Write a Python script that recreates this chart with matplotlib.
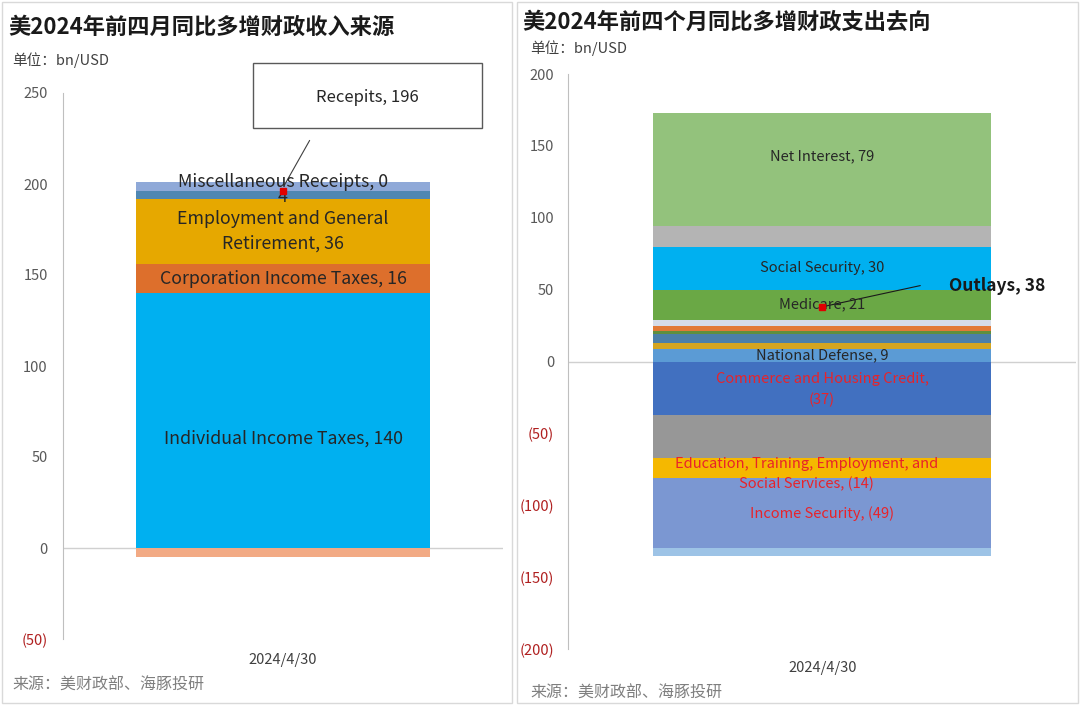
import matplotlib
matplotlib.use("Agg")
import matplotlib.pyplot as plt
from matplotlib.patches import Rectangle
from matplotlib.ticker import FuncFormatter

plt.rcParams['font.family'] = ['Noto Sans CJK SC', 'DejaVu Sans']

# 数据：收入来源（左）
rev_labels = ["Individual Income Taxes, 140", "Corporation Income Taxes, 16",
              "Employment and General\nRetirement, 36", "4",
              "Miscellaneous Receipts, 0", ""]
rev_values = [140, 16, 36, 4, 5, -5]
rev_colors = ["#00b0f0", "#dd6f2c", "#e6a800", "#4f87b3", "#8fa9d8", "#f2aa84"]
rev_label_shift = [-10, 0, 0, -1, 2.5, 0]

# 数据：支出去向（右）
out_labels = ["National Defense, 9", "", "", "", "", "", "Medicare, 21",
              "Social Security, 30", "", "Net Interest, 79",
              "Commerce and Housing Credit,\n(37)", "",
              "Education, Training, Employment, and\nSocial Services, (14)",
              "Income Security, (49)", ""]
out_values = [9, 4, 6, 2, 4, 4, 21, 30, 14, 79, -37, -30, -14, -49, -5]
out_colors = ["#5b9bd5", "#d4a520", "#4b7fa8", "#5f8f3e", "#e27a36", "#d6dde8",
              "#6aa845", "#00b0f0", "#b4b4b4", "#93c27c",
              "#4170c0", "#979797", "#f5b800", "#7b97d2", "#9dc3e6"]
out_label_shift = [0, 0, 0, 0, 0, 0, 0, 0, 0, 9, -1, 0, -4.5, 0, 0]

x_label = "2024/4/30"
W, H = 1080, 705


def fx(px):
    return px / W


def fy(py):
    return 1 - py / H


def fmt(v, pos):
    if v < 0:
        return "(%d)" % abs(v)
    return "%d" % v


def stack(ax, values, colors, labels, shifts, fs, neg_color):
    pos_b, neg_b = 0, 0
    for v, c, lab, s in zip(values, colors, labels, shifts):
        if v >= 0:
            b = pos_b
            pos_b += v
        else:
            b = neg_b
            neg_b += v
        ax.bar(0.5, v, bottom=b, width=0.667, color=c, zorder=2)
        if lab:
            tc = neg_color if v < 0 else "#262626"
            xx = 0.5
            if lab.startswith("Education"):
                xx = 0.47
            ax.text(xx, b + v / 2 + s, lab, ha="center", va="center",
                    fontsize=fs, color=tc, zorder=4, linespacing=1.5)
    return sum(values)


def setup_axis(ax, lo, hi, step, pad):
    ax.set_xlim(0, 1)
    ax.set_ylim(lo, hi)
    ax.set_yticks(range(lo, hi + 1, step))
    ax.set_yticks([lo, hi], minor=True)
    ax.yaxis.set_major_formatter(FuncFormatter(fmt))
    ax.tick_params(axis="y", which="major", length=0, pad=pad,
                   labelsize=10.5, labelcolor="#595959")
    ax.tick_params(axis="y", which="minor", length=5, direction="in",
                   color="#bfbfbf")
    ax.set_xticks([])
    for sp in ["top", "right", "bottom"]:
        ax.spines[sp].set_visible(False)
    ax.spines["left"].set_color("#bfbfbf")
    ax.axhline(0, color="#d0d0d0", lw=1, zorder=1)
    fig.canvas.draw()
    for t, v in zip(ax.get_yticklabels(), ax.get_yticks()):
        if v < 0:
            t.set_color("#b02020")


fig = plt.figure(figsize=(10.8, 7.05), dpi=100)

# 面板边框
for x0, x1 in [(2, 512), (517, 1078)]:
    fig.add_artist(Rectangle((fx(x0), fy(703)), fx(x1 - x0), (701) / H,
                             transform=fig.transFigure, fill=False,
                             edgecolor="#d9d9d9", lw=1))

# 左图
ax1 = fig.add_axes([fx(63), fy(639), fx(440), (639 - 93) / H])
tot1 = stack(ax1, rev_values, rev_colors, rev_labels, rev_label_shift, 12.8, "#e8232a")
setup_axis(ax1, -50, 250, 50, 11)
ax1.plot(0.5, tot1, "s", color="#e00000", ms=5, zorder=5)
fig.add_artist(Rectangle((fx(253), fy(128)), fx(229), 65 / H,
                         transform=fig.transFigure, facecolor="white",
                         edgecolor="#595959", lw=1))
fig.text(fx(367), fy(97), "Recepits, %d" % tot1, ha="center", va="center",
         fontsize=12, color="#262626")
ax1.annotate("", xy=(0.5, tot1 + 2), xycoords="data",
             xytext=(fx(311), fy(138)), textcoords="figure fraction",
             arrowprops=dict(arrowstyle="-", color="#404040", lw=0.8))

# 右图
ax2 = fig.add_axes([fx(568), fy(649), fx(508), (649 - 74) / H])
tot2 = stack(ax2, out_values, out_colors, out_labels, out_label_shift, 10.5, "#e8232a")
setup_axis(ax2, -200, 200, 50, 10)
ax2.plot(0.5, tot2, "s", color="#e00000", ms=5, zorder=5)
ax2.annotate("", xy=(0.5, tot2), xycoords="data",
             xytext=(fx(923), fy(285)), textcoords="figure fraction",
             arrowprops=dict(arrowstyle="-", color="#1a1a1a", lw=0.8))
fig.text(fx(949), fy(286), "Outlays, %d" % tot2, ha="left", va="center",
         fontsize=12.5, fontweight="bold", color="#1a1a1a")

# 标题与注释
fig.text(fx(8), fy(27), "美2024年前四月同比多增财政收入来源", fontsize=16,
         fontweight="bold", va="center", color="#1a1a1a")
fig.text(fx(522), fy(22), "美2024年前四个月同比多增财政支出去向", fontsize=16,
         fontweight="bold", va="center", color="#1a1a1a")
fig.text(fx(12), fy(60), "单位：bn/USD", fontsize=10.5, va="center", color="#404040")
fig.text(fx(530), fy(48), "单位：bn/USD", fontsize=10.5, va="center", color="#404040")
fig.text(fx(283), fy(660), x_label, fontsize=10.5, ha="center", va="center", color="#404040")
fig.text(fx(823), fy(668), x_label, fontsize=10.5, ha="center", va="center", color="#404040")
fig.text(fx(12), fy(685), "来源：美财政部、海豚投研", fontsize=11.5, va="center", color="#7f7f7f")
fig.text(fx(530), fy(693), "来源：美财政部、海豚投研", fontsize=11.5, va="center", color="#7f7f7f")

fig.savefig("out.png", dpi=100)
